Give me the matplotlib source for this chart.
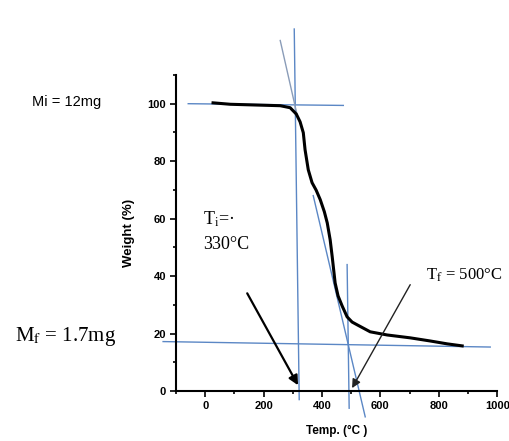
import matplotlib
matplotlib.use("Agg")
import matplotlib.pyplot as plt
from matplotlib.ticker import MultipleLocator

plt.rcParams['font.family'] = ['Liberation Sans', 'DejaVu Sans']
plt.rcParams['mathtext.fontset'] = 'stix'

# TGA curve
temp = [27, 86, 188, 257, 291, 312, 325, 336, 342, 353, 366, 380, 394, 408, 418,
        428, 435, 445, 455, 469, 486, 503, 521, 565, 623, 702, 771, 829, 880]
weight = [100.3, 99.8, 99.5, 99.3, 98.6, 96.4, 93.7, 89.9, 84.0, 77.0, 72.5, 69.9,
          66.6, 62.4, 58.5, 52.6, 46.7, 37.6, 33.1, 29.6, 25.8, 24.0, 23.0, 20.6,
          19.5, 18.5, 17.4, 16.4, 15.7]

# construction lines (start, end)
top_line_x = [-58, 473]
top_line_y = [100, 99.4]
bottom_line_x = [-144, 976]
bottom_line_y = [17.2, 15.3]
ti_vert_x = [305, 322]
ti_vert_y = [126, -3]
ti_tan_x = [257, 315]
ti_tan_y = [122, 96]
tf_vert_x = [486, 493]
tf_vert_y = [44, -6]
tf_tan_x = [370, 548]
tf_tan_y = [68, -9]

# arrows (tail -> head)
arrow_ti = [(144, 34), (318, 2)]
arrow_tf = [(702, 37), (503, 1)]

fig = plt.figure(figsize=(5.10, 4.41), dpi=100)
ax = fig.add_axes([0.345, 0.1134, 0.63, 0.7166])

blue = "#5b87c5"
ax.plot(top_line_x, top_line_y, color=blue, lw=1.0, clip_on=False)
ax.plot(bottom_line_x, bottom_line_y, color=blue, lw=1.0, clip_on=False)
ax.plot(ti_vert_x, ti_vert_y, color=blue, lw=1.0, clip_on=False)
ax.plot(ti_tan_x, ti_tan_y, color="#8a9cb8", lw=1.0, clip_on=False)
ax.plot(tf_vert_x, tf_vert_y, color=blue, lw=1.0, clip_on=False)
ax.plot(tf_tan_x, tf_tan_y, color=blue, lw=1.0, clip_on=False)

ax.plot(temp, weight, color="black", lw=2.2, clip_on=False)

ax.annotate("", xy=arrow_ti[1], xytext=arrow_ti[0],
            arrowprops=dict(arrowstyle="-|>", color="black", lw=1.6,
                            mutation_scale=14, shrinkA=0, shrinkB=0))
ax.annotate("", xy=arrow_tf[1], xytext=arrow_tf[0],
            arrowprops=dict(arrowstyle="-|>", color="#222222", lw=1.0,
                            mutation_scale=13, shrinkA=0, shrinkB=0))

ax.set_xlim(-100, 1000)
ax.set_ylim(0, 110)
ax.set_xticks([0, 200, 400, 600, 800, 1000])
ax.set_yticks([0, 20, 40, 60, 80, 100])
ax.xaxis.set_minor_locator(MultipleLocator(100))
ax.yaxis.set_minor_locator(MultipleLocator(10))
ax.tick_params(which="major", length=4, width=1.2, labelsize=8, pad=3)
ax.tick_params(which="minor", length=2.5, width=1.2)
for lab in ax.get_xticklabels() + ax.get_yticklabels():
    lab.set_fontweight("bold")

for s in ["top", "right"]:
    ax.spines[s].set_visible(False)
for s in ["left", "bottom"]:
    ax.spines[s].set_linewidth(1.5)

ax.set_ylabel("Weight (%)", fontsize=9.5, fontweight="bold", labelpad=9)
ax.set_xlabel("Temp. (°C )", fontsize=8.5, fontweight="bold", labelpad=10)

serif = ["Liberation Serif", "DejaVu Serif"]
fig.text(0.063, 0.769, "Mi = 12mg", fontsize=10.5, va="center", ha="left")
fig.text(0.029, 0.236, r"M$_\mathrm{f}$ = 1.7mg", fontsize=15, va="center", ha="left", family=serif)
ax.text(-7, 59.6, r"T$_\mathrm{i}$=·", fontsize=13, va="center", ha="left", family=serif)
ax.text(-7, 50.9, "330°C", fontsize=13, va="center", ha="left", family=serif)
ax.text(755, 40.4, r"T$_\mathrm{f}$ = 500°C", fontsize=12, va="center", ha="left", family=serif)

fig.savefig("out.png", dpi=100)
